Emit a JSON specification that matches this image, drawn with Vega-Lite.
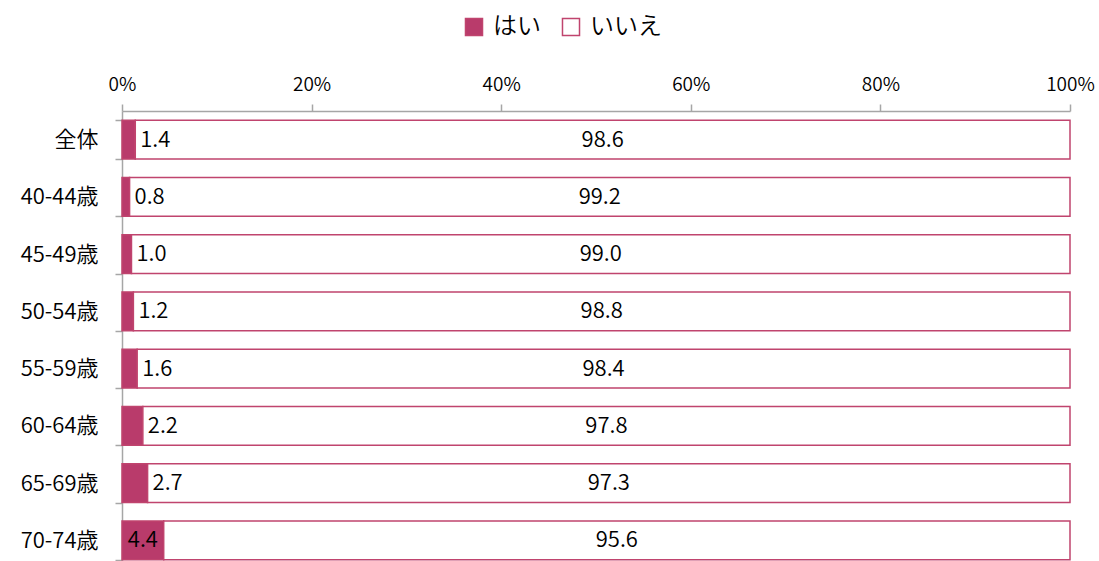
{
  "$schema": "https://vega.github.io/schema/vega-lite/v6.json",
  "width": 948,
  "height": 450,
  "autosize": {"type": "none"},
  "padding": {"left": 122, "top": 111, "right": 29, "bottom": 0},
  "config": {
    "font": "Noto Sans CJK JP",
    "view": {"stroke": null}
  },
  "data": {
    "values": [
      {"cat": "全体", "resp": "はい", "value": 1.4},
      {"cat": "全体", "resp": "いいえ", "value": 98.6},
      {"cat": "40-44歳", "resp": "はい", "value": 0.8},
      {"cat": "40-44歳", "resp": "いいえ", "value": 99.2},
      {"cat": "45-49歳", "resp": "はい", "value": 1.0},
      {"cat": "45-49歳", "resp": "いいえ", "value": 99.0},
      {"cat": "50-54歳", "resp": "はい", "value": 1.2},
      {"cat": "50-54歳", "resp": "いいえ", "value": 98.8},
      {"cat": "55-59歳", "resp": "はい", "value": 1.6},
      {"cat": "55-59歳", "resp": "いいえ", "value": 98.4},
      {"cat": "60-64歳", "resp": "はい", "value": 2.2},
      {"cat": "60-64歳", "resp": "いいえ", "value": 97.8},
      {"cat": "65-69歳", "resp": "はい", "value": 2.7},
      {"cat": "65-69歳", "resp": "いいえ", "value": 97.3},
      {"cat": "70-74歳", "resp": "はい", "value": 4.4},
      {"cat": "70-74歳", "resp": "いいえ", "value": 95.6}
    ]
  },
  "transform": [
    {"calculate": "datum.resp === 'はい' ? 0 : 1", "as": "ord"},
    {"stack": "value", "groupby": ["cat"], "sort": [{"field": "ord", "order": "ascending"}], "as": ["v0", "v1"]},
    {"calculate": "(datum.v0 + datum.v1) / 2", "as": "mid"}
  ],
  "encoding": {
    "y": {
      "field": "cat",
      "type": "nominal",
      "sort": ["全体", "40-44歳", "45-49歳", "50-54歳", "55-59歳", "60-64歳", "65-69歳", "70-74歳"],
      "scale": {"range": [0, 458], "paddingInner": 0.32, "paddingOuter": 0.16},
      "axis": {
        "title": null,
        "domainColor": "#A6A6A6",
        "domainWidth": 1.5,
        "tickColor": "#A6A6A6",
        "tickWidth": 1.5,
        "tickSize": 7,
        "tickBand": "extent",
        "labelFontSize": 22,
        "labelFontWeight": 350,
        "labelColor": "#000000",
        "labelPadding": 17
      }
    }
  },
  "layer": [
    {
      "mark": {"type": "bar", "stroke": "#C0446E", "strokeWidth": 1.5},
      "encoding": {
        "x": {
          "field": "v0",
          "type": "quantitative",
          "scale": {"domain": [0, 100]},
          "axis": {
            "orient": "top",
            "title": null,
            "values": [0, 20, 40, 60, 80, 100],
            "labelExpr": "datum.value + '%'",
            "labelFlush": false,
            "grid": false,
            "domainColor": "#A6A6A6",
            "domainWidth": 1.5,
            "tickColor": "#A6A6A6",
            "tickWidth": 1.5,
            "tickSize": 7,
            "labelFontSize": 19,
            "labelFontWeight": 350,
            "labelColor": "#000000",
            "labelPadding": 10
          }
        },
        "x2": {"field": "v1"},
        "fill": {
          "field": "resp",
          "type": "nominal",
          "sort": ["はい", "いいえ"],
          "scale": {"domain": ["はい", "いいえ"], "range": ["#B93B6B", "#FFFFFF"]},
          "legend": {
            "orient": "none",
            "direction": "horizontal",
            "legendX": 340,
            "legendY": -96,
            "title": null,
            "symbolType": "square",
            "symbolSize": 290,
            "symbolStrokeColor": "#C0446E",
            "symbolStrokeWidth": 1.5,
            "labelFontSize": 24,
            "labelFontWeight": 350,
            "labelColor": "#000000",
            "labelOffset": 7,
            "columnPadding": 18
          }
        }
      }
    },
    {
      "transform": [{"filter": "datum.resp === 'いいえ'"}],
      "mark": {"type": "text", "fontSize": 22, "fontWeight": 350, "color": "#000000", "align": "center", "baseline": "middle"},
      "encoding": {
        "x": {"field": "mid", "type": "quantitative"},
        "text": {"field": "value", "type": "quantitative", "format": ".1f"}
      }
    },
    {
      "transform": [{"filter": "datum.resp === 'はい' && datum.value < 4"}],
      "mark": {"type": "text", "fontSize": 22, "fontWeight": 350, "color": "#000000", "align": "left", "baseline": "middle", "dx": 5},
      "encoding": {
        "x": {"field": "v1", "type": "quantitative"},
        "text": {"field": "value", "type": "quantitative", "format": ".1f"}
      }
    },
    {
      "transform": [{"filter": "datum.resp === 'はい' && datum.value >= 4"}],
      "mark": {"type": "text", "fontSize": 22, "fontWeight": 350, "color": "#000000", "align": "center", "baseline": "middle"},
      "encoding": {
        "x": {"field": "mid", "type": "quantitative"},
        "text": {"field": "value", "type": "quantitative", "format": ".1f"}
      }
    }
  ]
}
